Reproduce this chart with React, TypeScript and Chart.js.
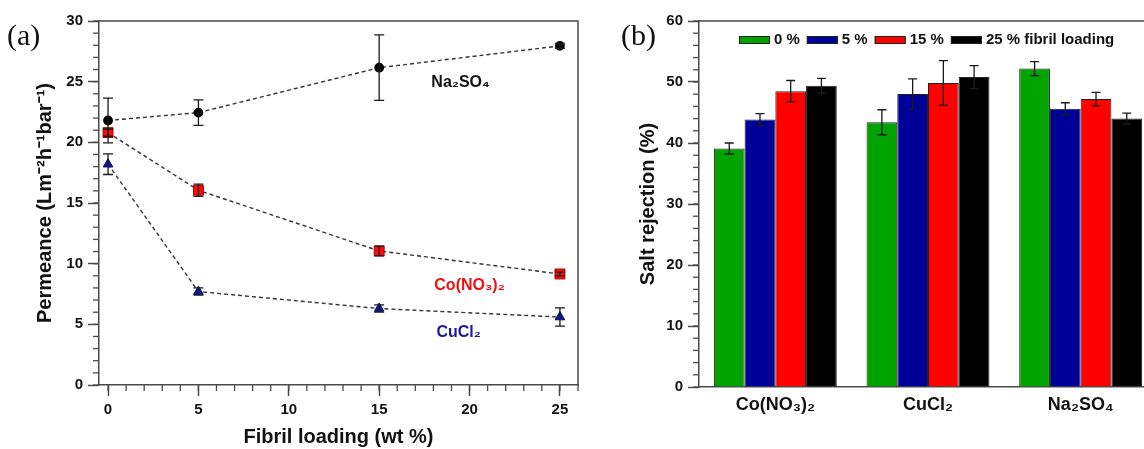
import React, { useEffect, useRef } from 'react';
import { Chart, registerables } from 'chart.js';

Chart.register(...registerables);

// ---------- Panel (a) data ----------
const loadings = [0, 5, 15, 25];
const na2so4 = [21.8, 22.45, 26.15, 27.95];
const na2so4Err = [1.85, 1.05, 2.7, 0.2];
const coNO3 = [20.8, 16.05, 11.05, 9.15];
const coNO3Err = [0.3, 0.5, 0.4, 0.15];
const cuCl2 = [18.2, 7.7, 6.3, 5.6];
const cuCl2Err = [0.85, 0.3, 0.3, 0.75];
const xTicksA = [0, 5, 10, 15, 20, 25];
const yTicksA = [0, 5, 10, 15, 20, 25, 30];

// ---------- Panel (b) data ----------
const salts = ['Co(NO₃)₂', 'CuCl₂', 'Na₂SO₄'];
const loadingLabels = ['0 %', '5 %', '15 %', '25 % fibril loading'];
const rej0 = [39.1, 43.4, 52.2];
const rej5 = [43.85, 48.05, 45.6];
const rej15 = [48.5, 49.85, 47.2];
const rej25 = [49.4, 50.8, 44.0];
const rej0Err = [0.9, 2.05, 1.15];
const rej5Err = [0.95, 2.45, 1.0];
const rej15Err = [1.75, 3.65, 1.1];
const rej25Err = [1.2, 1.9, 0.9];
const yTicksB = [0, 10, 20, 30, 40, 50, 60];

const FONT = '"Liberation Sans", Arial, sans-serif';
const AXIS = '#4a4a4a';
const TXT = '#111111';

function minorTicks(specs: { id: string; step: number; len: number }[]) {
  return {
    id: 'minorTicks',
    afterDraw(chart: any) {
      const ctx = chart.ctx;
      ctx.save();
      ctx.strokeStyle = AXIS;
      ctx.lineWidth = 1.3;
      for (const s of specs) {
        const sc = chart.scales[s.id];
        const start = Math.ceil(sc.min / s.step) * s.step;
        for (let v = start; v <= sc.max + 1e-9; v += s.step) {
          const p = sc.getPixelForValue(v);
          ctx.beginPath();
          if (sc.isHorizontal()) {
            ctx.moveTo(p, sc.top);
            ctx.lineTo(p, sc.top + s.len);
          } else {
            ctx.moveTo(sc.right - s.len, p);
            ctx.lineTo(sc.right, p);
          }
          ctx.stroke();
        }
      }
      ctx.restore();
    },
  };
}

function frame(drawRight: boolean) {
  return {
    id: 'frame',
    afterDraw(chart: any) {
      const { ctx, chartArea: a } = chart;
      ctx.save();
      ctx.strokeStyle = AXIS;
      ctx.lineWidth = 1.5;
      ctx.beginPath();
      ctx.moveTo(a.left, a.top);
      ctx.lineTo(a.right, a.top);
      if (drawRight) ctx.lineTo(a.right, a.bottom);
      ctx.stroke();
      ctx.restore();
    },
  };
}

function errorBars(errs: number[][], cap: number) {
  return {
    id: 'errorBars',
    afterDatasetsDraw(chart: any) {
      const ctx = chart.ctx;
      const ys = chart.scales.y;
      ctx.save();
      ctx.strokeStyle = '#1a1a1a';
      ctx.lineWidth = 1.3;
      chart.data.datasets.forEach((ds: any, i: number) => {
        const e = errs[i];
        if (!e) return;
        const meta = chart.getDatasetMeta(i);
        meta.data.forEach((el: any, j: number) => {
          const raw = ds.data[j];
          const val = typeof raw === 'number' ? raw : raw.y;
          const x = el.x;
          const yt = ys.getPixelForValue(val + e[j]);
          const yb = ys.getPixelForValue(val - e[j]);
          ctx.beginPath();
          ctx.moveTo(x, yt);
          ctx.lineTo(x, yb);
          ctx.moveTo(x - cap, yt);
          ctx.lineTo(x + cap, yt);
          ctx.moveTo(x - cap, yb);
          ctx.lineTo(x + cap, yb);
          ctx.stroke();
        });
      });
      ctx.restore();
    },
  };
}

const seriesLabels = [
  { text: 'Na₂SO₄', x: 19.5, y: 24.95, color: '#111111' },
  { text: 'Co(NO₃)₂', x: 20.0, y: 8.2, color: '#ee1111' },
  { text: 'CuCl₂', x: 19.4, y: 4.3, color: '#1a1a9a' },
];

const labelsPlugin = {
  id: 'seriesLabels',
  afterDraw(chart: any) {
    const { ctx } = chart;
    const xs = chart.scales.x;
    const ys = chart.scales.y;
    ctx.save();
    ctx.font = `bold 16px ${FONT}`;
    ctx.textAlign = 'center';
    ctx.textBaseline = 'middle';
    for (const l of seriesLabels) {
      ctx.fillStyle = l.color;
      ctx.fillText(l.text, xs.getPixelForValue(l.x), ys.getPixelForValue(l.y));
    }
    ctx.restore();
  },
};

const legendPlugin = {
  id: 'insideLegend',
  afterDraw(chart: any) {
    const { ctx, chartArea } = chart;
    ctx.save();
    ctx.font = `bold 15px ${FONT}`;
    ctx.textBaseline = 'middle';
    ctx.textAlign = 'left';
    let x = chartArea.left + 40;
    const yc = chartArea.top + 19;
    chart.data.datasets.forEach((ds: any) => {
      ctx.fillStyle = ds.backgroundColor;
      ctx.fillRect(x, yc - 4, 31, 8);
      ctx.strokeStyle = '#222';
      ctx.lineWidth = 1;
      ctx.strokeRect(x + 0.5, yc - 4 + 0.5, 30, 7);
      x += 35;
      ctx.fillStyle = TXT;
      ctx.fillText(ds.label, x, yc);
      x += ctx.measureText(ds.label).width + 7;
    });
    ctx.restore();
  },
};

function ChartA() {
  const ref = useRef<HTMLCanvasElement>(null);
  useEffect(() => {
    if (!ref.current) return;
    const mk = (ys: number[]) => loadings.map((x, i) => ({ x, y: ys[i] }));
    const line = { showLine: true, borderColor: '#333333', borderWidth: 1.4, borderDash: [4, 3], tension: 0 };
    const chart = new Chart(ref.current, {
      type: 'scatter',
      data: {
        datasets: [
          { ...line, label: 'Na2SO4', data: mk(na2so4), pointStyle: 'circle', pointRadius: 4.2, pointBackgroundColor: '#000', pointBorderColor: '#000' },
          { ...line, label: 'Co(NO3)2', data: mk(coNO3), pointStyle: 'rect', pointRadius: 7, pointBackgroundColor: '#ff0a0a', pointBorderColor: '#aa0000', pointBorderWidth: 1 },
          { ...line, label: 'CuCl2', data: mk(cuCl2), pointStyle: 'triangle', pointRadius: 5.5, pointBackgroundColor: '#1515a8', pointBorderColor: '#000070', pointBorderWidth: 1 },
        ] as any,
      },
      options: {
        responsive: false,
        animation: false,
        layout: { padding: { left: 0, top: 21, right: 22, bottom: 0 } },
        plugins: { legend: { display: false }, tooltip: { enabled: false } },
        scales: {
          x: {
            type: 'linear',
            min: -0.5,
            max: 26,
            afterBuildTicks: (s: any) => { s.ticks = xTicksA.map((v) => ({ value: v })); },
            afterFit: (s: any) => { s.height = 64; },
            grid: { drawOnChartArea: false, drawTicks: true, tickLength: 11, tickColor: AXIS, tickWidth: 1.5 },
            border: { display: true, color: AXIS, width: 1.5 },
            ticks: { font: { family: FONT, size: 15, weight: 'bold' }, color: TXT, padding: 5, maxRotation: 0 },
            title: { display: true, text: 'Fibril loading (wt %)', color: TXT, font: { family: FONT, size: 20, weight: 'bold' }, padding: { top: 0, bottom: 0 } },
          },
          y: {
            type: 'linear',
            min: 0,
            max: 30,
            afterBuildTicks: (s: any) => { s.ticks = yTicksA.map((v) => ({ value: v })); },
            afterFit: (s: any) => { s.width = 99; },
            grid: { drawOnChartArea: false, drawTicks: true, tickLength: 11, tickColor: AXIS, tickWidth: 1.5 },
            border: { display: true, color: AXIS, width: 1.5 },
            ticks: { font: { family: FONT, size: 15, weight: 'bold' }, color: TXT, padding: 5 },
            title: { display: true, text: 'Permeance (Lm⁻²h⁻¹bar⁻¹)', color: TXT, font: { family: FONT, size: 20, weight: 'bold' }, padding: { top: 33, bottom: 0 } },
          },
        },
      } as any,
      plugins: [
        minorTicks([{ id: 'x', step: 1, len: 6 }, { id: 'y', step: 1, len: 6 }]),
        frame(true),
        errorBars([na2so4Err, coNO3Err, cuCl2Err], 5),
        labelsPlugin,
      ],
    });
    return () => chart.destroy();
  }, []);
  return <canvas ref={ref} width={600} height={449} style={{ position: 'absolute', left: 0, top: 0 }} />;
}

function ChartB() {
  const ref = useRef<HTMLCanvasElement>(null);
  useEffect(() => {
    if (!ref.current) return;
    const colors = ['#00a300', '#000099', '#ff0000', '#000000'];
    const vals = [rej0, rej5, rej15, rej25];
    const chart = new Chart(ref.current, {
      type: 'bar',
      data: {
        labels: salts,
        datasets: vals.map((v, i) => ({
          label: loadingLabels[i],
          data: v,
          backgroundColor: colors[i],
          borderColor: '#222222',
          borderWidth: 1,
          categoryPercentage: 0.805,
          barPercentage: 1,
        })),
      },
      options: {
        responsive: false,
        animation: false,
        layout: { padding: { left: 0, top: 21, right: 3, bottom: 0 } },
        plugins: { legend: { display: false }, tooltip: { enabled: false } },
        scales: {
          x: {
            afterFit: (s: any) => { s.height = 62; },
            grid: { display: false, drawTicks: false },
            border: { display: true, color: AXIS, width: 1.5 },
            ticks: { font: { family: FONT, size: 18, weight: 'bold' }, color: TXT, padding: 7, maxRotation: 0 },
          },
          y: {
            type: 'linear',
            min: 0,
            max: 60,
            afterBuildTicks: (s: any) => { s.ticks = yTicksB.map((v) => ({ value: v })); },
            afterFit: (s: any) => { s.width = 99; },
            grid: { drawOnChartArea: false, drawTicks: true, tickLength: 11, tickColor: AXIS, tickWidth: 1.5 },
            border: { display: true, color: AXIS, width: 1.5 },
            ticks: { font: { family: FONT, size: 15, weight: 'bold' }, color: TXT, padding: 5 },
            title: { display: true, text: 'Salt rejection (%)', color: TXT, font: { family: FONT, size: 20, weight: 'bold' }, padding: { top: 36, bottom: 0 } },
          },
        },
      } as any,
      plugins: [
        minorTicks([{ id: 'y', step: 2, len: 6 }]),
        frame(false),
        errorBars([rej0Err, rej5Err, rej15Err, rej25Err], 4.5),
        legendPlugin,
      ],
    });
    return () => chart.destroy();
  }, []);
  return <canvas ref={ref} width={560} height={449} style={{ position: 'absolute', left: 600, top: 0 }} />;
}

export default function App() {
  const tag: React.CSSProperties = { position: 'absolute', fontFamily: '"Liberation Serif", "Times New Roman", serif', fontSize: 30, lineHeight: '30px', color: '#111' };
  return (
    <div style={{ position: 'absolute', left: 0, top: 0, width: 1144, height: 449, overflow: 'hidden', background: '#fff' }}>
      <ChartA />
      <ChartB />
      <div style={{ ...tag, left: 7, top: 20 }}>(a)</div>
      <div style={{ ...tag, left: 621, top: 20 }}>(b)</div>
    </div>
  );
}
